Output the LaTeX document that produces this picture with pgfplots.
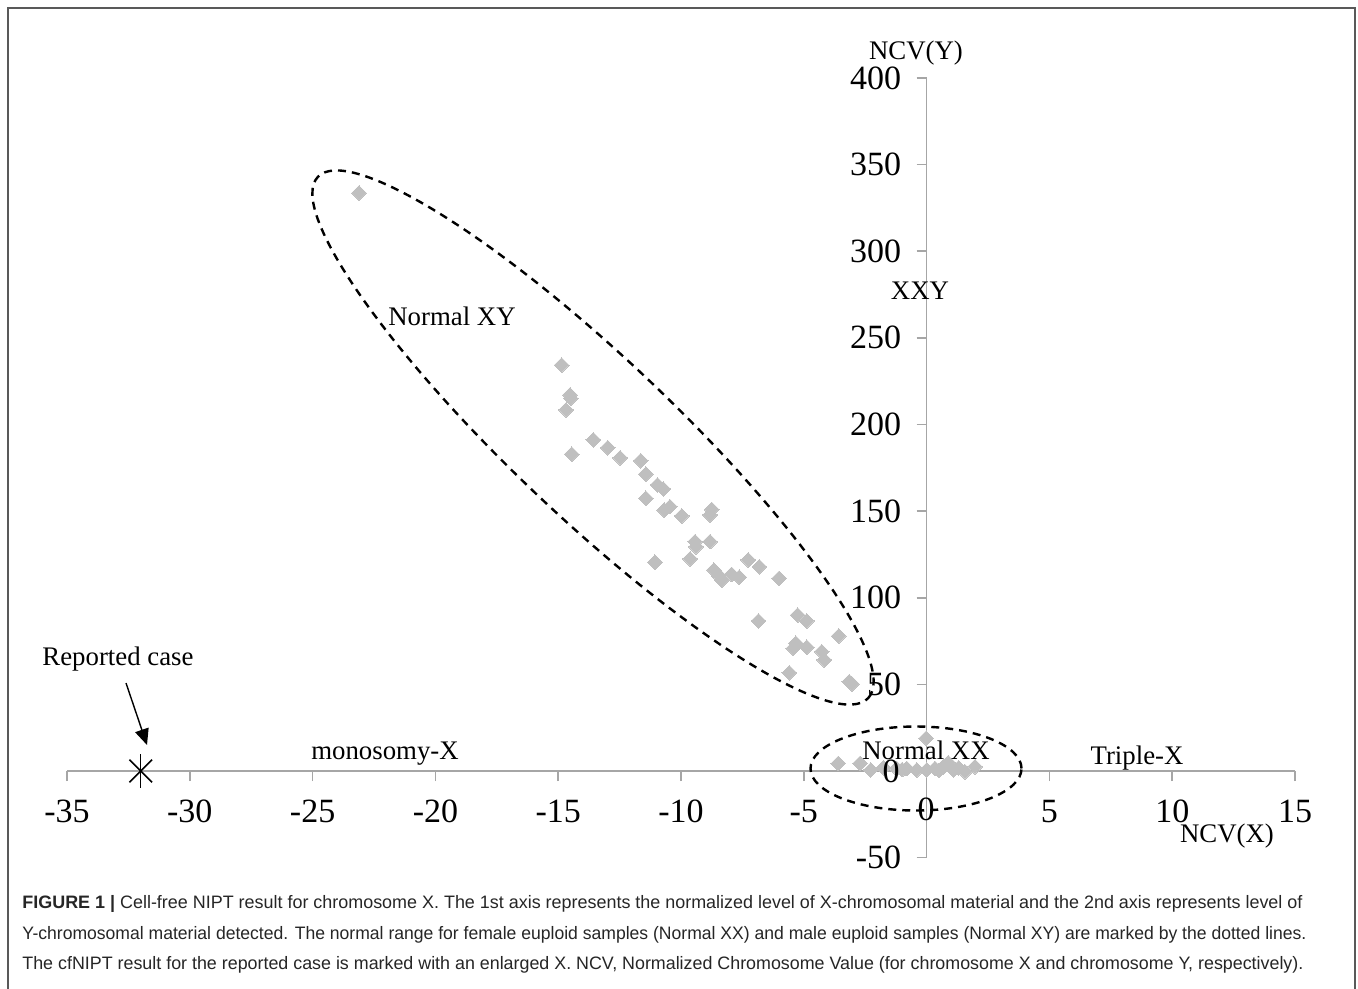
\documentclass[border=0pt]{standalone}
\usepackage{pgfplots}
\pgfplotsset{compat=1.18}
\usepackage{fontspec}
\usepackage{graphicx}
\setmainfont{Liberation Serif}
\newfontfamily\capfont{Liberation Sans}
\usetikzlibrary{arrows.meta,shapes.geometric}
\definecolor{ptgray}{HTML}{BFBFBF}
\definecolor{axgray}{HTML}{A6A6A6}
\begin{document}
\begin{tikzpicture}[x=0.5bp,y=-0.5bp]
\useasboundingbox (0,0) rectangle (1358,988);
\fill[white] (0,0) rectangle (1358,988);
\draw[black!65, line width=1.2bp] (8,990) -- (8,8) -- (1355,8) -- (1355,990);
\begin{axis}[
  at={(33.5bp,-428.8bp)}, anchor=south west,
  scale only axis, width=614bp, height=389.8bp,
  xmin=-35, xmax=15, ymin=-50, ymax=400,
  axis x line=middle, axis y line=middle,
  axis line style={-, draw=axgray, line width=0.8bp},
  xtick={-35,-30,...,15}, ytick={-50,0,50,...,400},
  tick style={draw=axgray, line width=0.8bp},
  major tick length=5bp,
  tick align=outside,
  /pgf/number format/assume math mode=true,
  tick label style={font=\fontsize{17bp}{20bp}\selectfont, inner sep=0pt},
  x tick label style={anchor=base, yshift=-20.5bp},
  y tick label style={anchor=base east, xshift=-7.5bp, yshift=-5.5bp},
  clip=false,
]
\addplot[only marks, color=ptgray, mark=square*, mark size=2.6bp, mark options={rotate=45, fill=ptgray, draw=ptgray, line width=0pt}] coordinates {
(-23.11,333.6) (-14.86,234.3) (-14.52,217.0) (-14.49,215.1) (-14.68,208.4)
(-14.45,182.8) (-13.57,191.1) (-12.98,186.6) (-12.48,180.8) (-11.64,179.1)
(-11.43,171.4) (-10.96,165.1) (-10.72,162.8) (-11.43,157.4) (-10.69,150.6)
(-10.45,152.6) (-9.97,147.2) (-8.75,151.0) (-8.82,147.8) (-9.43,132.4)
(-9.39,129.5) (-8.82,132.4) (-9.63,122.4) (-11.06,120.5) (-8.66,116.0)
(-8.48,113.1) (-8.34,110.2) (-7.94,113.5) (-7.63,111.8) (-7.26,121.8)
(-6.81,117.9) (-6.01,111.2) (-6.85,86.6) (-5.25,90.0) (-4.88,86.6)
(-5.32,73.7) (-5.43,70.8) (-4.88,71.4) (-3.58,77.9) (-4.27,68.9)
(-4.17,64.1) (-5.59,56.7) (-3.15,51.5) (-3.04,50.2)
};
\addplot[only marks, color=ptgray, mark=square*, mark size=2.6bp, mark options={rotate=45, fill=ptgray, draw=ptgray, line width=0pt}] coordinates {
(-3.60,4.4) (-2.71,4.4) (-2.28,0.6) (-1.76,1.9) (-1.22,1.5) (-0.81,1.5)
(-0.40,0.6) (0.0,0.6) (0.34,1.5) (0.68,2.5) (0.88,4.8) (1.09,0.6)
(1.56,-0.4) (1.97,2.5) (-0.02,18.9) (-1.0,0.8) (0.5,0.3) (1.3,1.8)
};
\addplot[only marks, color=black, mark=x, mark size=8bp, mark options={draw=black, line width=0.8bp}] coordinates {(-32,0)};
\addplot[only marks, color=black, mark=|, mark size=8.5bp, mark options={draw=black, line width=0.8bp}] coordinates {(-32,0)};
\end{axis}
% zero tick labels hidden by the middle axes
\node[font=\fontsize{17bp}{20bp}\selectfont, inner sep=0pt, anchor=base] at (926,820) {0};
\node[font=\fontsize{17bp}{20bp}\selectfont, inner sep=0pt, anchor=base east] at (900,782) {0};
% ellipses
\node[draw=black, dash pattern=on 4bp off 3bp, line width=1.2bp, ellipse, inner sep=0pt,
  minimum width=379bp, minimum height=80bp, rotate=-43.45] at (593,437.5) {};
\node[draw=black, dash pattern=on 4bp off 3bp, line width=1.2bp, ellipse, inner sep=0pt,
  minimum width=105.5bp, minimum height=42bp] at (916,768.5) {};
% arrow
\draw[line width=0.7bp, -{Triangle[length=8bp,width=7bp]}] (126,683) -- (147,745);
% texts
\tikzset{lab/.style={font=\fontsize{13.4bp}{16bp}\selectfont, inner sep=0pt, anchor=base}}
\node[lab] at (916,59) {NCV(Y)};
\node[lab] at (1227,842) {NCV(X)};
\node[lab] at (452,325) {Normal XY};
\node[lab] at (920,299) {XXY};
\node[lab] at (385,759) {monosomy-X};
\node[lab] at (926,759) {Normal XX};
\node[lab] at (1137,764) {Triple-X};
\node[lab] at (118,665) {Reported case};
% caption
\tikzset{captxt/.style={font=\capfont\fontsize{9bp}{11bp}\selectfont, inner sep=0pt, anchor=base west, text=black!85}}
\node[captxt] at (22,908) {\resizebox{640bp}{\height}{\textbf{FIGURE 1 |} Cell-free NIPT result for chromosome X. The 1st axis represents the normalized level of X-chromosomal material and the 2nd axis represents level of}};
\node[captxt] at (22,939) {\resizebox{642bp}{\height}{Y-chromosomal material detected. The normal range for female euploid samples (Normal XX) and male euploid samples (Normal XY) are marked by the dotted lines.}};
\node[captxt] at (22,969) {\resizebox{640.5bp}{\height}{The cfNIPT result for the reported case is marked with an enlarged X. NCV, Normalized Chromosome Value (for chromosome X and chromosome Y, respectively).}};
\end{tikzpicture}
\end{document}
